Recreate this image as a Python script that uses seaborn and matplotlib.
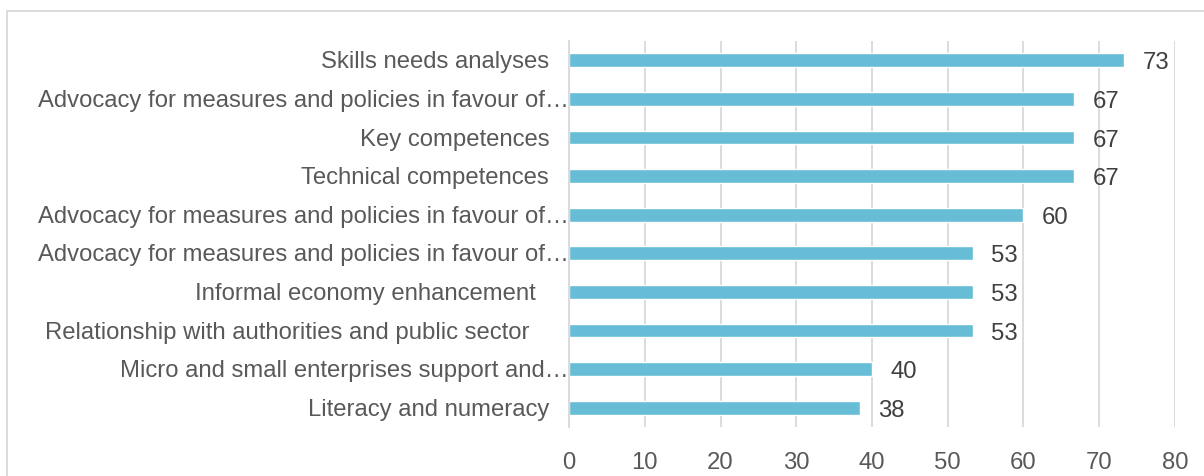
import matplotlib
matplotlib.use("Agg")
import matplotlib.pyplot as plt
import matplotlib.transforms as mtransforms
import seaborn as sns
import pandas as pd
from matplotlib.lines import Line2D

# data (top to bottom)
categories = [
    "Skills needs analyses   ",
    "Advocacy for measures and policies in favour of\u2026",
    "Key competences   ",
    "Technical competences   ",
    "Advocacy for measures and policies in favour of\u2026",
    "Advocacy for measures and policies in favour of\u2026",
    "Informal economy enhancement     ",
    "Relationship with authorities and public sector      ",
    "Micro and small enterprises support and\u2026",
    "Literacy and numeracy   ",
]
values = [73.3, 66.7, 66.7, 66.7, 60.0, 53.3, 53.3, 53.3, 40.0, 38.4]
x_ticks = [0, 10, 20, 30, 40, 50, 60, 70, 80]

bar_color = "#68BDD6"
text_gray = "#595959"
grid_gray = "#D9D9D9"

df = pd.DataFrame({"row": range(len(values)), "value": values})

sns.set_style("white")
plt.rcParams["font.family"] = ["Liberation Sans", "DejaVu Sans"]

fig = plt.figure(figsize=(12.04, 4.77), dpi=100)
ax = fig.add_axes([0.4726, 0.1027, 0.5033, 0.8093])

sns.barplot(data=df, x="value", y="row", orient="h", color=bar_color,
            width=0.36, saturation=1, ax=ax)

ax.set_xlim(0, 80)
ax.set_xticks(x_ticks)
ax.set_yticks(range(len(categories)))
ax.set_yticklabels(categories)
ax.set_ylim(len(values) - 0.5, -0.5)
ax.set_xlabel("")
ax.set_ylabel("")

ax.grid(axis="x", color=grid_gray, linewidth=1.3)
ax.set_axisbelow(True)
for side in ["top", "right", "bottom"]:
    ax.spines[side].set_visible(False)
ax.spines["left"].set_color(grid_gray)
ax.spines["left"].set_linewidth(1.3)

ax.tick_params(axis="both", length=0, labelsize=17.2, labelcolor=text_gray)
ax.tick_params(axis="y", pad=0)
ax.tick_params(axis="x", pad=17.5)

# nudge category labels up a little
shift_up = mtransforms.ScaledTranslation(0, 1.0 / 72, fig.dpi_scale_trans)
for lbl in ax.get_yticklabels():
    lbl.set_transform(lbl.get_transform() + shift_up)

labels = ax.bar_label(ax.containers[0], fmt="%.0f", padding=13, fontsize=17.2, color="#404040")
for t in labels:
    t.xyann = (13, -1.5)

# chart frame (top and left edges visible)
fig.add_artist(Line2D([0.0062, 1.0], [0.975, 0.975], color=grid_gray, linewidth=1.3))
fig.add_artist(Line2D([0.0062, 0.0062], [0.0, 0.975], color=grid_gray, linewidth=1.3))

fig.savefig("out.png", dpi=100)
